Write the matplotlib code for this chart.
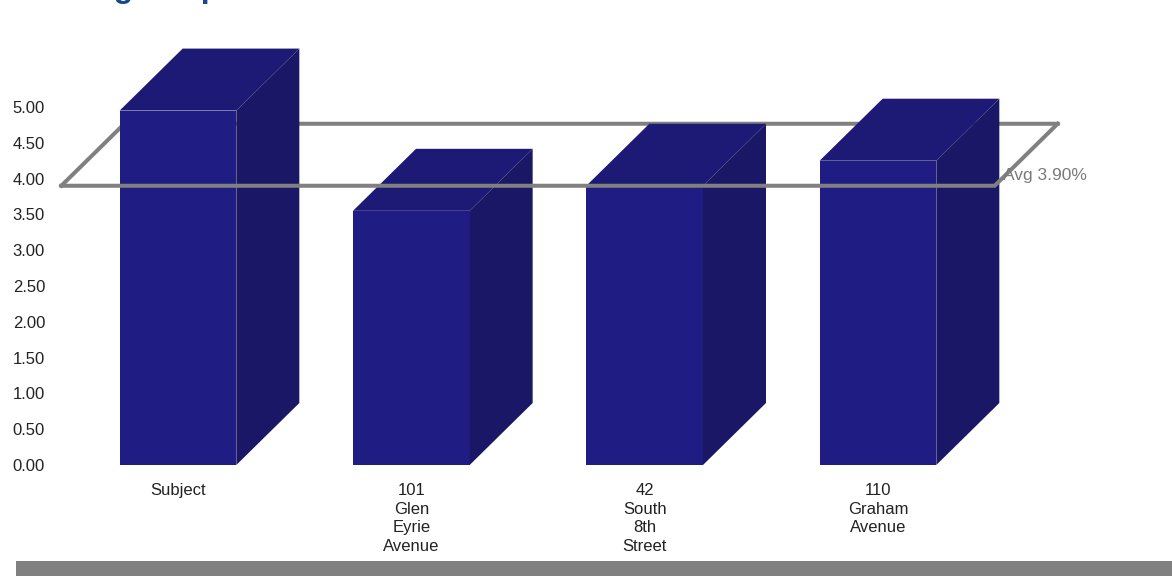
import matplotlib
matplotlib.use("Agg")
import matplotlib.pyplot as plt
from matplotlib.patches import Rectangle

# ---- data ----
categories = ["Subject", "101\nGlen\nEyrie\nAvenue", "42\nSouth\n8th\nStreet", "110\nGraham\nAvenue"]
cap_rates = [4.95, 3.55, 3.90, 4.25]
average_rate = 3.90
avg_label = "Avg 3.90%"
y_ticks = [0.0, 0.5, 1.0, 1.5, 2.0, 2.5, 3.0, 3.5, 4.0, 4.5, 5.0]
y_tick_labels = ["0.00", "0.50", "1.00", "1.50", "2.00", "2.50", "3.00", "3.50", "4.00", "4.50", "5.00"]
title = "Average Cap Rate"

# ---- style ----
FRONT = "#1f1d84"
TOP = "#1c1a74"
SIDE = "#1a1866"
GRAY = "#808080"
TITLE_BLUE = "#174a8c"
FONT = ["Liberation Sans", "DejaVu Sans"]
plt.rcParams["font.family"] = FONT

W, H = 1172, 576
fig = plt.figure(figsize=(W / 100, H / 100), dpi=100)

# layout in pixels
ax_left_px = 55
zero_px = 465          # y pixel (from top) of value 0
px_per_unit = 71.6
cat0_px = 178
cat_step_px = 233.33

ax = fig.add_axes([ax_left_px / W, (H - zero_px) / H, 1 - ax_left_px / W, zero_px / H])
ax.set_xlim((ax_left_px - cat0_px) / cat_step_px, (W - cat0_px) / cat_step_px)
ax.set_ylim(0, zero_px / px_per_unit)
for s in ax.spines.values():
    s.set_visible(False)
ax.patch.set_alpha(0)

DX = 63 / cat_step_px
DY = 62 / px_per_unit
BW = 0.5

xs = list(range(len(categories)))
ax.bar(xs, cap_rates, width=BW, color=FRONT, zorder=3)
for xi, v in zip(xs, cap_rates):
    l, r = xi - BW / 2, xi + BW / 2
    ax.fill([l, r, r + DX, l + DX], [v, v, v + DY, v + DY], color=TOP, lw=0, zorder=3)
    ax.fill([r, r + DX, r + DX, r], [0, DY, v + DY, v], color=SIDE, lw=0, zorder=3)

# average plane
x0, x1 = -0.5, len(categories) - 0.5
lw = 2.9
ax.plot([x0, x0 + DX, x1 + DX], [average_rate, average_rate + DY, average_rate + DY],
        color=GRAY, lw=lw, zorder=1, clip_on=False, solid_joinstyle="miter")
ax.plot([x1 + DX, x1, x0], [average_rate + DY, average_rate, average_rate],
        color=GRAY, lw=lw, zorder=5, clip_on=False, solid_joinstyle="miter")
ax.text(x1 + 0.036, average_rate + 0.15, avg_label, ha="left", va="center",
        color="#7a7a7a", fontsize=12.5, zorder=6)

ax.set_yticks(y_ticks)
ax.set_yticklabels(y_tick_labels, fontsize=12, color="#222222")
ax.set_xticks(xs)
ax.set_xticklabels(categories, fontsize=12, color="#222222", linespacing=1.3)
ax.tick_params(axis="y", length=0, pad=7.2)
ax.tick_params(axis="x", length=0, pad=13)

# title (cut off at the top edge, as in the reference)
fig.text(26 / W, 1 + 2.7 / H, title, ha="left", va="baseline", fontsize=23,
         fontweight="bold", color=TITLE_BLUE)

# bottom gray band
fig.add_artist(Rectangle((16 / W, 0), 1 - 16 / W, 15 / H, transform=fig.transFigure,
                         color=GRAY, lw=0))

fig.savefig("out.png", dpi=100)
